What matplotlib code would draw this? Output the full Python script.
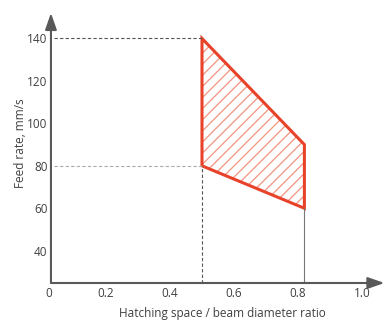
import matplotlib
matplotlib.use("Agg")
import matplotlib.pyplot as plt

# process window corners (hatch/beam ratio, feed rate)
win_x = [0.5, 0.5, 0.82, 0.82]
win_y = [140, 80, 60, 90]

x_ticks = [0.02, 0.2, 0.4, 0.6, 0.8, 1.0]
x_labels = ["0", "0.2", "0.4", "0.6", "0.8", "1.0"]
y_ticks = [40, 60, 80, 100, 120, 140]

plt.rcParams['font.family'] = ['Open Sans', 'DejaVu Sans']
plt.rcParams['hatch.linewidth'] = 0.9
txt = '#404040'
axc = '#595959'

fig = plt.figure(figsize=(3.85, 3.2), dpi=100)
ax = fig.add_axes([42/385, 1 - 283/320, 1.07*320/385, 270/320])
x0, y0 = 0.028, 24.8
ax.set_xlim(0, 1.07)
ax.set_ylim(y0, 152)
for s in ax.spines.values():
    s.set_visible(False)

# axes with arrow heads
ax.annotate('', xy=(1.07, y0), xytext=(x0, y0),
            arrowprops=dict(arrowstyle='-|>,head_length=1.0,head_width=0.35', color=axc, lw=1.5, shrinkA=0, shrinkB=0))
ax.annotate('', xy=(x0, 152), xytext=(x0, y0),
            arrowprops=dict(arrowstyle='-|>,head_length=1.0,head_width=0.35', color=axc, lw=1.5, shrinkA=0, shrinkB=0))

# guide lines
ax.plot([x0 + 0.01, win_x[0]], [win_y[0], win_y[0]], ls=(0, (3, 2)), color='#555555', lw=0.8)
ax.plot([x0 + 0.01, win_x[1]], [win_y[1], win_y[1]], ls=(0, (3, 2)), color='#aaaaaa', lw=0.8)
ax.plot([win_x[1], win_x[1]], [y0, win_y[1]], ls=(0, (3, 2)), color='#555555', lw=0.8)
ax.plot([win_x[2], win_x[2]], [y0, win_y[2]], color='#777777', lw=0.8)

# hatched window
ax.fill(win_x, win_y, facecolor='none', edgecolor='#f2947f', hatch='///', lw=0)
ax.fill(win_x, win_y, facecolor='none', edgecolor='#e8432a', lw=2.2, joinstyle='miter')

ax.set_xticks(x_ticks)
ax.set_xticklabels(x_labels)
ax.set_yticks(y_ticks)
ax.tick_params(length=0, labelsize=8.5, colors=txt)
ax.tick_params(axis='x', pad=3)
ax.tick_params(axis='y', pad=-4)

fig.text(21/385, 1 - 143/320, 'Feed rate, mm/s', rotation=90, ha='center', va='center', fontsize=8.5, color=txt)
fig.text(222/385, 1 - 313/320, 'Hatching space / beam diameter ratio', ha='center', va='center', fontsize=8.5, color=txt)

fig.savefig('out.png', dpi=100)
